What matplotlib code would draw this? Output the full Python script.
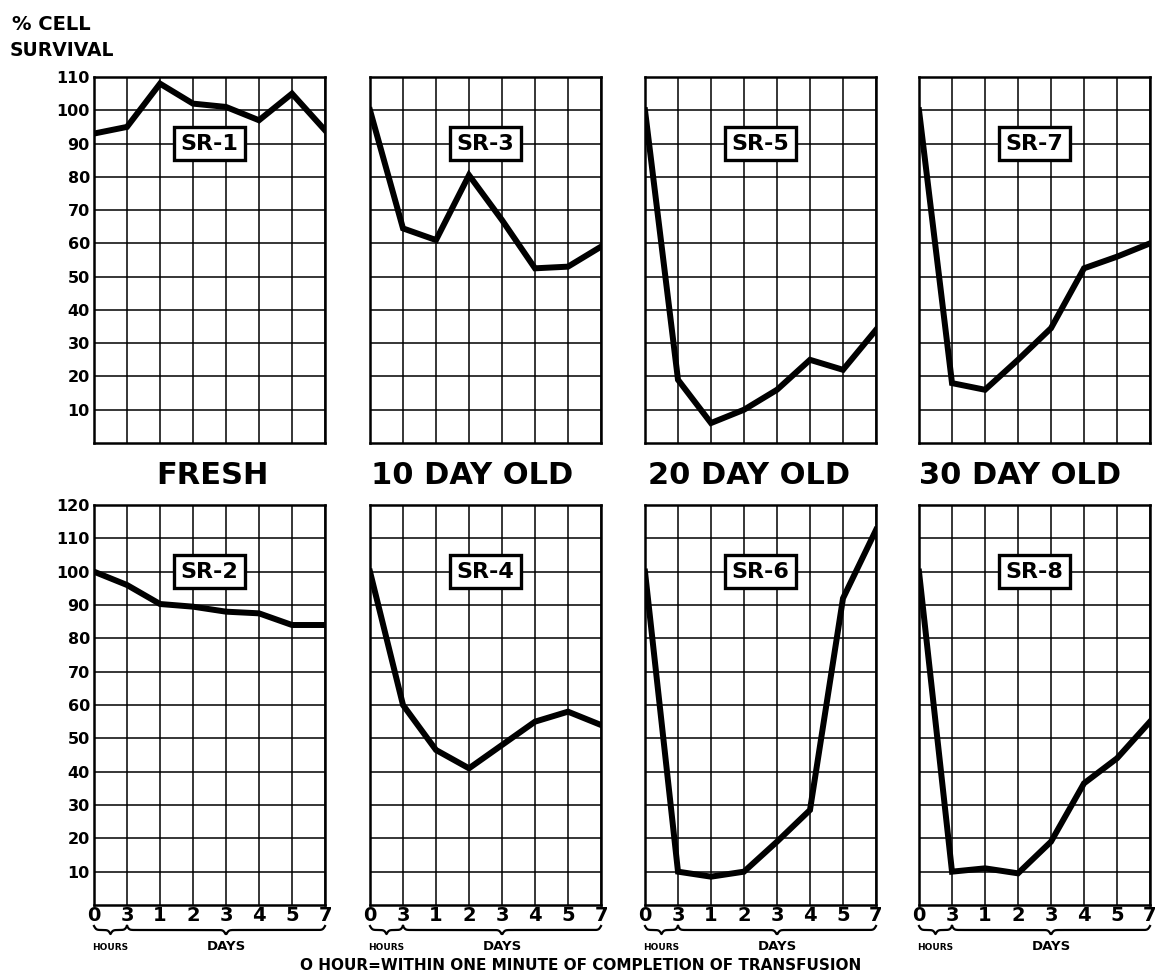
# % cell survival after transfusion, fresh vs stored blood (8 small panels)

import numpy as np
import matplotlib.pyplot as plt

plt.rcParams['font.family'] = ['DejaVu Sans']
plt.rcParams['font.weight'] = 'bold'

# x positions: 0 and 3 hours, then days 1..5 and 7
x_labels = ['0', '3', '1', '2', '3', '4', '5', '7']

# top row
sr1 = [93, 95, 108, 102, 101, 97, 105, 94]
sr3 = [100, 64.5, 61, 80.5, 67, 52.5, 53, 59]
sr5 = [100, 19, 6, 10, 16, 25, 22, 34]
sr7 = [100, 18, 16, 25, 34.5, 52.5, 56, 60]
# bottom row
sr2 = [100, 96, 90.3, 89.5, 88, 87.5, 84, 84]
sr4 = [100, 60, 46.5, 41, 48, 55, 58, 54]
sr6 = [100, 10, 8.5, 10, 19, 28.5, 92, 112.5]
sr8 = [100, 10, 11, 9.5, 19, 36.5, 44, 55]

top_names = ['SR-1', 'SR-3', 'SR-5', 'SR-7']
bottom_names = ['SR-2', 'SR-4', 'SR-6', 'SR-8']
col_titles = ['FRESH', '10 DAY OLD', '20 DAY OLD', '30 DAY OLD']

W, H = 1155, 976
fig = plt.figure(figsize=(W / 100, H / 100), dpi=100)

lefts = [94, 370, 645, 919]
pw = 231


def brace(ax, x0, x1, y, h):
    # curly brace below the axis, tip pointing down
    trans = ax.get_xaxis_transform()
    n = 200
    xs = np.linspace(x0, x1, n)
    half = xs[:n // 2]
    beta = 30.0
    yy = 1 / (1 + np.exp(-beta * (half - half[0]))) + 1 / (1 + np.exp(-beta * (half - half[-1])))
    yy = np.concatenate([yy, yy[::-1]])
    ax.plot(xs, y - h * (yy - 0.5), color='black', lw=1.6, transform=trans, clip_on=False)


def panel(row, col, data, name, ymax):
    if row == 0:
        top, bot = 77, 443
    else:
        top, bot = 505, 905
    ax = fig.add_axes([lefts[col] / W, 1 - bot / H, pw / W, (bot - top) / H])
    x = np.arange(len(x_labels))
    ax.plot(x, data, color='black', lw=4.3, solid_joinstyle='miter', zorder=3)
    ax.set_xlim(0, 7)
    ax.set_ylim(0, ymax)
    ax.set_xticks(x)
    ax.set_yticks(range(10, ymax + 1, 10))
    ax.grid(True, color='black', lw=1.1)
    ax.tick_params(length=0, pad=3)
    for s in ax.spines.values():
        s.set_linewidth(1.8)
    ax.set_yticklabels([str(v) for v in range(10, ymax + 1, 10)], fontsize=11.5, fontweight='bold')
    if col > 0:
        ax.tick_params(labelleft=False)
    if row == 0:
        ax.tick_params(labelbottom=False)
    else:
        ax.set_xticklabels(x_labels, fontsize=14, fontweight='bold')
        ax.tick_params(axis='x', pad=1)
        h = 8 / (bot - top)
        y0 = -21 / (bot - top)
        brace(ax, 0, 1, y0, h)
        brace(ax, 1, 7, y0, h)
        trans = ax.get_xaxis_transform()
        ax.text(0.5, -43 / (bot - top), 'HOURS', transform=trans, ha='center', va='center',
                fontsize=6.5, fontweight='bold')
        ax.text(4, -41 / (bot - top), 'DAYS', transform=trans, ha='center', va='center',
                fontsize=9.5, fontweight='bold')
    box_y = 90 / ymax if row == 0 else 100 / ymax
    ax.text(0.5, box_y, name, transform=ax.transAxes, ha='center', va='center',
            fontsize=16, fontweight='bold', zorder=5,
            bbox=dict(boxstyle='square,pad=0.3', fc='white', ec='black', lw=2.4))
    return ax


for i, (d, n) in enumerate(zip([sr1, sr3, sr5, sr7], top_names)):
    panel(0, i, d, n, 110)
for i, (d, n) in enumerate(zip([sr2, sr4, sr6, sr8], bottom_names)):
    panel(1, i, d, n, 120)

title_x = [212, 472, 749, 1020]
for tx, t in zip(title_x, col_titles):
    fig.text(tx / W, 1 - 476 / H, t, ha='center', va='center', fontsize=22, fontweight='bold')

fig.text(12 / W, 1 - 24 / H, '% CELL', ha='left', va='center', fontsize=14, fontweight='bold')
fig.text(10 / W, 1 - 51 / H, 'SURVIVAL', ha='left', va='center', fontsize=13.5, fontweight='bold')

fig.text(581 / W, 1 - 966 / H, 'O HOUR=WITHIN ONE MINUTE OF COMPLETION OF TRANSFUSION',
         ha='center', va='center', fontsize=11, fontweight='bold')

fig.savefig('out.png', dpi=100, facecolor='white')
